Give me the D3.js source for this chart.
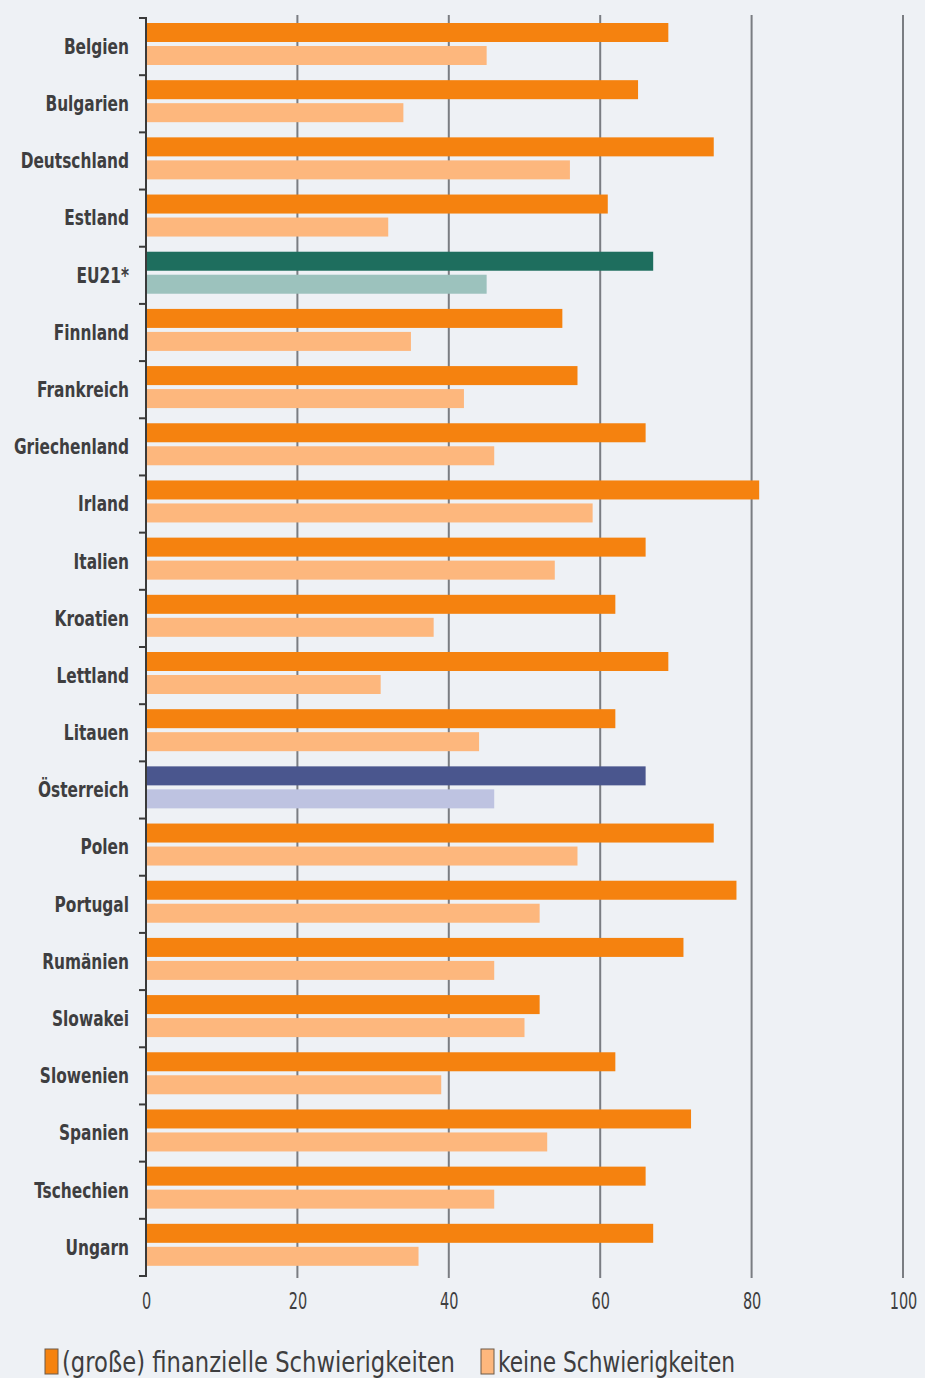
<!DOCTYPE html>
<html><head><meta charset="utf-8">
<script src="https://cdn.jsdelivr.net/npm/d3@7"></script>
<style>
html,body{margin:0;padding:0;background:#eef1f5;}
svg{display:block;}
text{font-family:"DejaVu Sans Condensed","DejaVu Sans","Liberation Sans",sans-serif;}
</style></head>
<body>
<script>
const categories = ["Belgien","Bulgarien","Deutschland","Estland","EU21*","Finnland","Frankreich","Griechenland","Irland","Italien","Kroatien","Lettland","Litauen","Österreich","Polen","Portugal","Rumänien","Slowakei","Slowenien","Spanien","Tschechien","Ungarn"];
const financialDifficulties = [69,65,75,61,67,55,57,66,81,66,62,69,62,66,75,78,71,52,62,72,66,67];
const noDifficulties = [45,34,56,32,45,35,42,46,59,54,38,31,44,46,57,52,46,50,39,53,46,36];
const xTicks = [0,20,40,60,80,100];
const seriesNames = ["(große) finanzielle Schwierigkeiten","keine Schwierigkeiten"];

const W = 925, H = 1378;
const svg = d3.select("body").append("svg").attr("width", W).attr("height", H);
svg.append("rect").attr("width", W).attr("height", H).attr("fill", "#eef1f5");

const x = d3.scaleLinear().domain([0,100]).range([146,903]);
const y = d3.scaleBand().domain(categories).range([18,1276]).padding(0);

const colorFor = (cat, i) => {
  if (cat === "EU21*") return i === 0 ? "#1e6e5e" : "#9cc2bd";
  if (cat === "Österreich") return i === 0 ? "#4a568e" : "#bec3e1";
  return i === 0 ? "#f5820f" : "#fdb77d";
};

// squeeze text horizontally to mimic condensed font
function squeeze(sel, k) {
  sel.each(function() {
    const w = this.getComputedTextLength();
    d3.select(this).attr("textLength", w * k).attr("lengthAdjust", "spacingAndGlyphs");
  });
}

// grid lines
svg.append("g").selectAll("line").data(xTicks.filter(d => d > 0)).join("line")
  .attr("x1", d => x(d)).attr("x2", d => x(d))
  .attr("y1", 15).attr("y2", 1278)
  .attr("stroke", "#7a7d82").attr("stroke-width", 2);

// bars
const bh = 19;
const rows = categories.map((c, i) => ({c, v: [financialDifficulties[i], noDifficulties[i]]}));
const g = svg.append("g");
rows.forEach(r => {
  r.v.forEach((v, i) => {
    g.append("rect")
      .attr("x", x(0)).attr("width", x(v) - x(0))
      .attr("y", y(r.c) + 5 + i * (bh + 4)).attr("height", bh)
      .attr("fill", colorFor(r.c, i));
  });
});

// left axis line and ticks
svg.append("line").attr("x1", x(0)).attr("x2", x(0)).attr("y1", 17).attr("y2", 1277)
  .attr("stroke", "#3a3a3a").attr("stroke-width", 2);
const bounds = categories.map(c => y(c)).concat([y.range()[1]]);
svg.append("g").selectAll("line").data(bounds).join("line")
  .attr("x1", x(0) - 7).attr("x2", x(0)).attr("y1", d => d).attr("y2", d => d)
  .attr("stroke", "#3a3a3a").attr("stroke-width", 2);

// category labels
const labels = svg.append("g").selectAll("text").data(categories).join("text")
  .attr("x", 129).attr("y", d => y(d) + y.bandwidth() / 2)
  .attr("dy", "0.35em").attr("text-anchor", "end")
  .attr("font-size", 21).attr("font-weight", "bold").attr("fill", "#3e3e40")
  .text(d => d);
let refW = 0;
labels.each(function(d){ if (d === "Griechenland") refW = this.getComputedTextLength(); });
squeeze(labels, 115 / refW);

// x axis tick labels (horizontally compressed via transform)
const xAxis = d3.axisBottom(x).tickValues(xTicks).tickSize(0).tickPadding(0);
const ax = svg.append("g").attr("transform", "translate(0,1293)").call(xAxis);
ax.select(".domain").remove();
ax.selectAll(".tick text").attr("font-size", 23).attr("fill", "#3e3e40").attr("dy", "0.71em")
  .attr("font-family", "\"DejaVu Sans Condensed\",\"DejaVu Sans\",sans-serif")
  .attr("transform", "scale(0.7,1)");

// legend
const legend = svg.append("g");
const legendX = [45, 481];
const legendW = [393, 237];
seriesNames.forEach((n, i) => {
  legend.append("rect").attr("x", legendX[i]).attr("y", 1349).attr("width", 13).attr("height", 25)
    .attr("fill", i === 0 ? "#f5820f" : "#fdb77d").attr("stroke", "#6b5a4a").attr("stroke-width", 1);
  legend.append("text").attr("x", legendX[i] + 17).attr("y", 1372)
    .attr("font-size", 28).attr("fill", "#3e3e40")
    .attr("textLength", legendW[i]).attr("lengthAdjust", "spacingAndGlyphs").text(n);
});
</script>
</body></html>
